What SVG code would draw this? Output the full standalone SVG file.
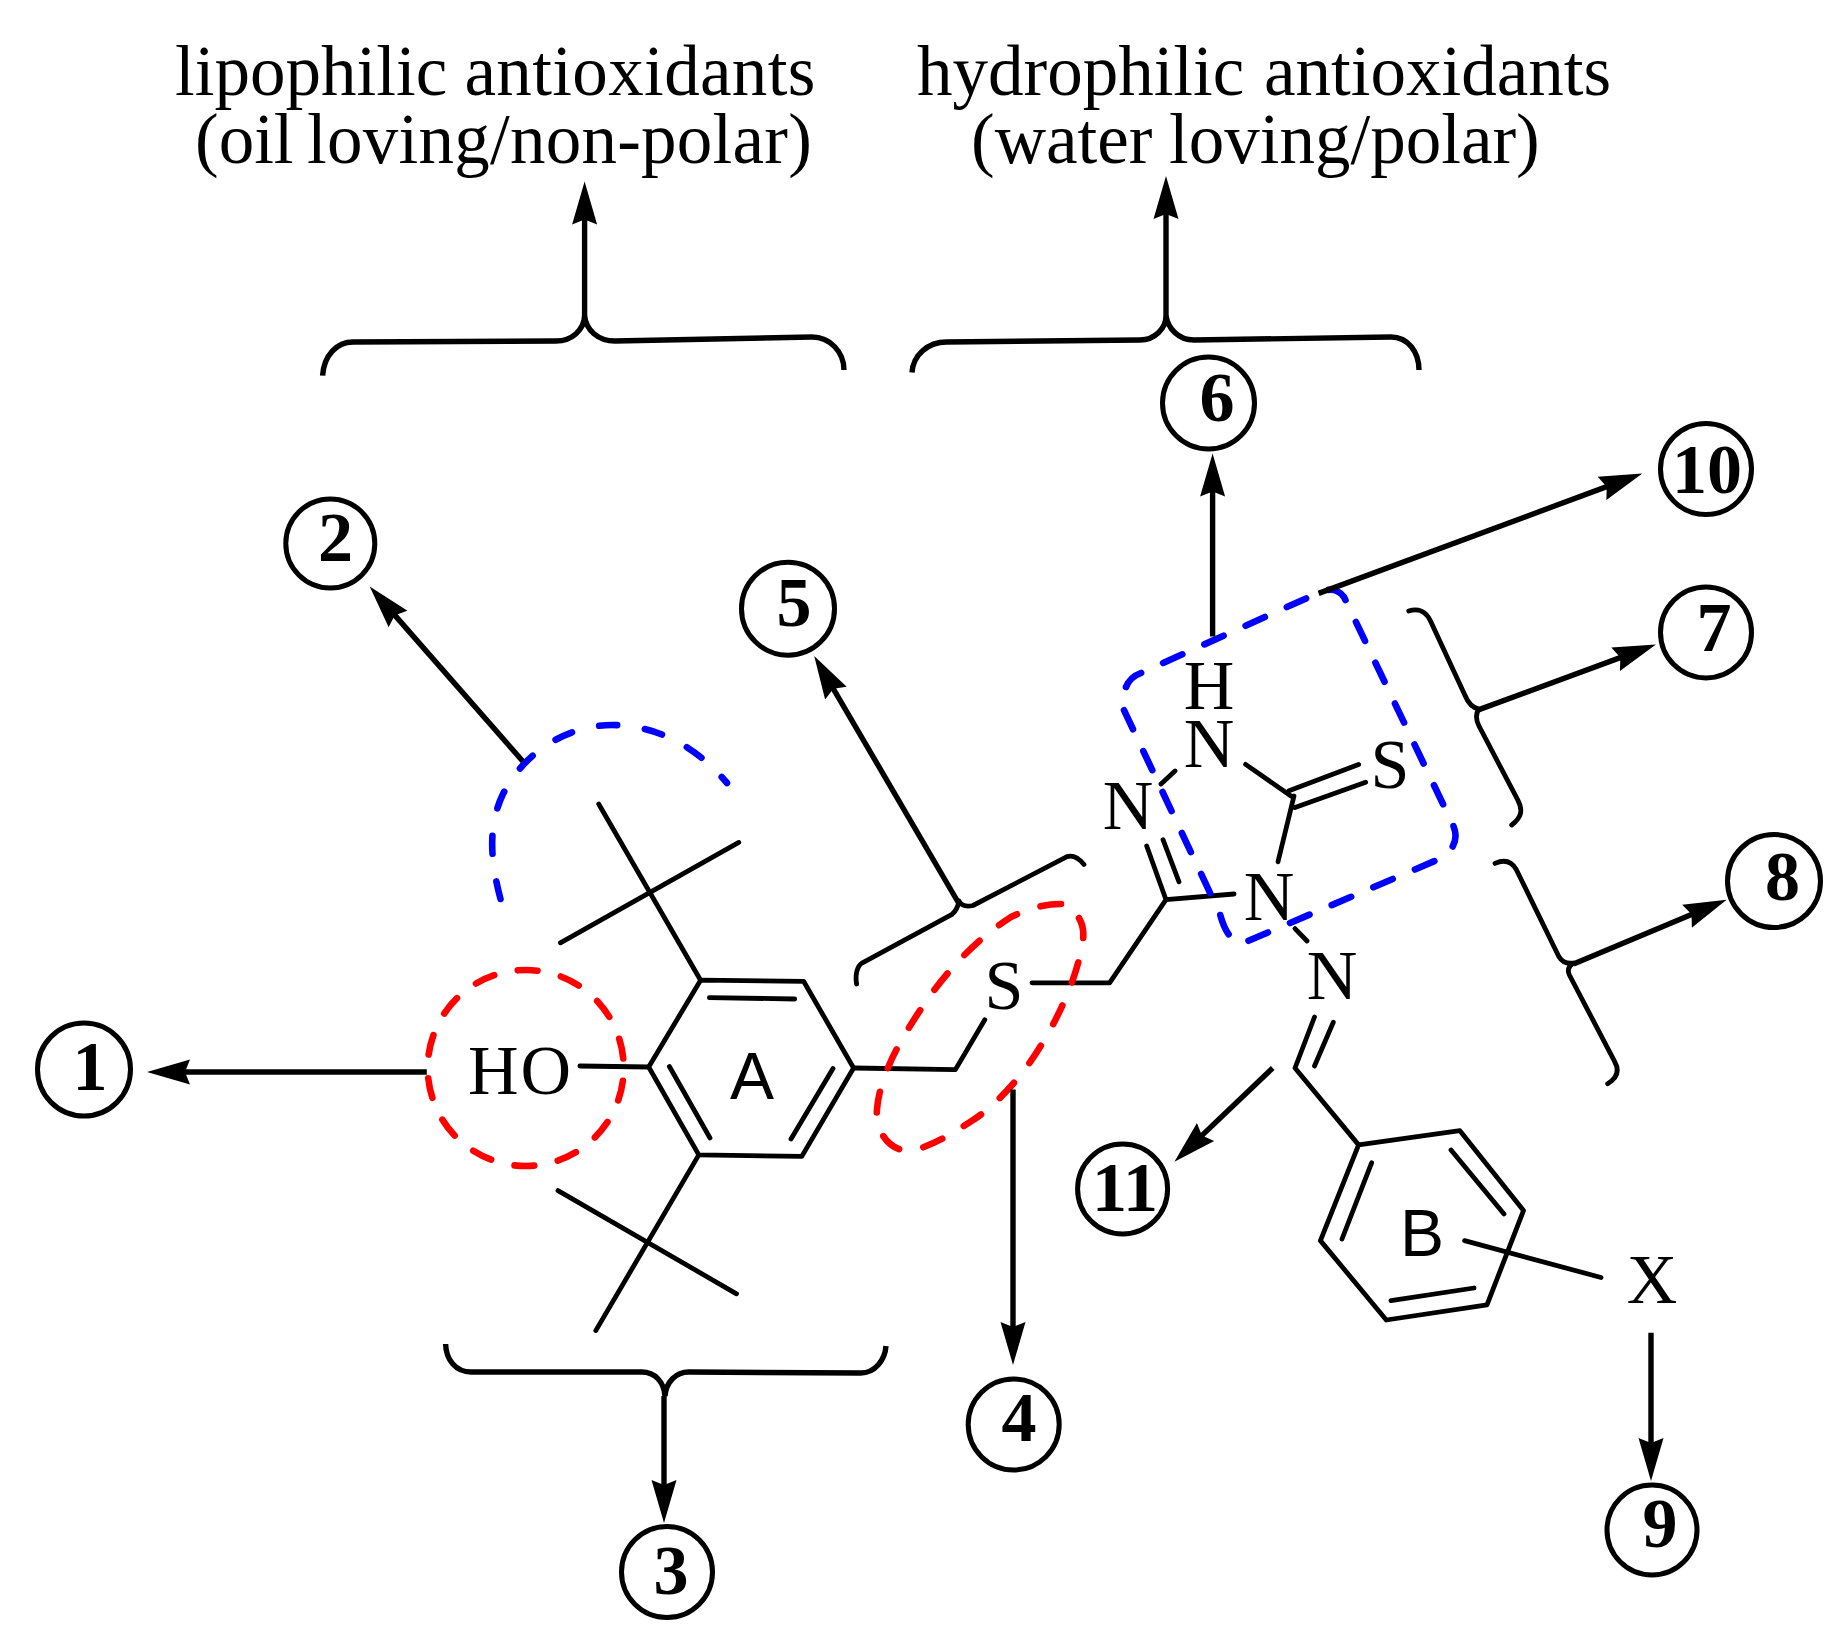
<svg xmlns="http://www.w3.org/2000/svg" width="1846" height="1650" viewBox="0 0 1846 1650">
<style>
.t{font-family:"Liberation Serif","Times New Roman",serif;font-size:70px;fill:#000}
.tt{font-family:"Liberation Serif","Times New Roman",serif;font-size:71px;fill:#000}
.n{font-family:"Liberation Serif","Times New Roman",serif;font-size:70px;font-weight:bold;fill:#000;text-anchor:middle}
.a{font-family:"Liberation Sans",Arial,sans-serif;font-size:66px;fill:#000;text-anchor:middle}
.m{text-anchor:middle}
.c{fill:none;stroke:#000;stroke-width:5}
.l{fill:none;stroke:#000;stroke-width:5.4}
.h{marker-end:url(#ah)}
.b{fill:none;stroke:#000;stroke-width:4.8;stroke-linecap:round;stroke-linejoin:round}
.dr{fill:none;stroke:#f00;stroke-width:6.6;stroke-dasharray:20 24;stroke-linecap:round}
.db{fill:none;stroke:#00f;stroke-width:6.6;stroke-dasharray:21 24;stroke-linecap:round}
</style>
<defs>
<marker id="ah" markerUnits="userSpaceOnUse" markerWidth="46" markerHeight="28" refX="23" refY="13" orient="auto" viewBox="0 0 46 26">
<path d="M0,0.5 L43,13 L0,25.5 L5,13 Z" fill="#000"/>
</marker>
</defs>
<g id="titles">
<text class="tt" y="94.5"><tspan x="175">lipophilic </tspan><tspan x="464.5" letter-spacing="0.35">antioxidants</tspan></text>
<text class="tt" y="163"><tspan x="195">(oil </tspan><tspan x="307" letter-spacing="0.25">loving/non-polar)</tspan></text>
<text class="tt" y="94.5"><tspan x="917">hydrophilic </tspan><tspan x="1264">antioxidants</tspan></text>
<text class="tt" y="163"><tspan x="971">(water </tspan><tspan x="1169">loving/polar)</tspan></text>
</g>
<g id="molecule">
<path class="b" d="M700.6,980.2 L803.6,981.3 L853.6,1068 L801.8,1156.4 L698.8,1154.9 L648.7,1067 Z"/>
<path class="b" d="M709.4,997.6 L794.7,999 M833,1068.6 L791,1139 M710,1138 L669.4,1066.5 M579.9,1066 L648.7,1067"/>
<path class="b" d="M700.6,980.2 L598.7,804 M738.8,842.4 L560.4,942.8 M698.8,1154.9 L595.8,1330.6 M558,1190.6 L736.5,1293.8"/>
<path class="b" d="M853.6,1068 L955.4,1069.6 L984.8,1019.7 M1032,982.8 L1109.6,982.8 L1166,899.7 L1146.7,846 M1179,881.8 L1163,839.7 M1166,899.7 L1234,894"/>
<path class="b" d="M1245.6,764.4 L1291,796 M1289,790.7 L1358.6,764.4 M1295,807.6 L1365.7,782.3 M1294,796 L1278,861.8 M1175,771 L1161,784 M1295,928.6 L1307,941"/>
<path class="b" d="M1314.5,1017 L1295,1068 L1358.6,1144.9 M1333.3,1022.3 L1314.5,1066"/>
<path class="b" d="M1358.6,1144.9 L1459.9,1130.7 L1523.5,1210.6 L1487,1304.8 L1386.3,1320 L1320.4,1240.6 Z"/>
<path class="b" d="M1371.6,1162.8 L1342,1239 M1451,1150 L1504,1214 M1474,1288 L1391,1300.6 M1464.6,1240.6 L1601,1277.5"/>
<text class="t" x="468" y="1094" textLength="103">HO</text>
<text class="a" x="752" y="1098.6">A</text>
<text class="a" x="1422" y="1256">B</text>
<text class="t m" x="1004" y="1009">S</text>
<text class="t m" x="1128" y="829">N</text>
<text class="t m" x="1269" y="919.7">N</text>
<text class="t m" x="1332" y="998.6">N</text>
<text class="t m" x="1209" y="708.7">H</text>
<text class="t m" x="1209" y="766.5">N</text>
<text class="t m" x="1390" y="788">S</text>
<text class="t m" x="1652" y="1302.7">X</text>
</g>
<g id="highlights">
<circle class="dr" cx="525.7" cy="1068" r="98" stroke-dashoffset="31"/>
<path class="dr" pathLength="636" d="M1079,918 C1083,925 1084,932 1083,940 C1078,975 1060,1015 1040,1047 C1018,1083 990,1110 970,1122 C950,1135 930,1147 910,1151 C888,1151 875,1130 877,1109 C880,1075 900,1040 923,1006 C945,973 975,940 1011,917 C1030,908 1045,904 1061,904"/>
<path class="db" style="stroke-dasharray:18 28" d="M500.5,899 C490,860 488,825 503,794 C525,750 570,725 612,725 C655,725 695,745 727,783"/>
<path class="db" pathLength="1035" style="stroke-dasharray:21 24" d="M1126,687 Q1130,677 1141,673 L1318,593 Q1335,585 1344,597 L1453,825 Q1461,842 1444,857 L1241,944 Q1227,940 1220,914 L1123,708 Q1120,697 1126,687"/>
</g>
<g id="connectors">
<path class="l" d="M322.6,375.6 C324,355 337,342 353,342 L556,341 C572,341 584,330 584.6,315.7 C586,330 598,341 615,341 L812,337 C830,337 844,352 844,370"/>
<path class="l h" d="M584.6,316 L584.6,201.5"/>
<path class="l" d="M912,372.5 C913,355 928,342 946.5,342 L1140,340 C1155,340 1166,328 1166,315.7 C1168,328 1178,340 1194,340 L1391,337 C1408,337 1419,352 1419,370"/>
<path class="l h" d="M1166,316 L1166,196"/>
<path class="l" d="M445.6,1344 C446,1360 456,1372 471,1372 L641.7,1372 C655,1372 664,1382 665,1396 C666,1382 676,1372 688.8,1372 L860.7,1373 C875,1373 885,1360 886,1346"/>
<path class="l h" d="M664,1396 L664,1503"/>
<path class="l h" d="M426.8,1072 L167,1072"/>
<path class="l h" d="M522.8,761.3 L382.9,601.6"/>
<path class="l h" d="M1013,1089.6 L1013,1345"/>
<path class="b" d="M1084,864.5 C1078,857 1072,855 1067,856.6 L973,905.5 C966,907 961,905 959,901 C958,907 956,911 952,914.4 L862.4,962.8 C857,966 855,975 856.6,984"/>
<path class="l h" d="M958,902 L824.3,673.3"/>
<path class="l h" d="M1212.6,636.6 L1212.6,473.5"/>
<path class="l h" d="M1318.6,593.4 L1623.6,480.4"/>
<path class="b" d="M1408.7,611 C1418,608 1426,611 1430.5,621 L1464.6,694.5 C1468,703 1473,708 1479,709 C1476,713 1475,718 1479,726 L1517.6,799.7 C1523,810 1522,817 1511.7,825"/>
<path class="l h" d="M1479,709.6 L1637.2,651.4"/>
<path class="b" d="M1495,863.4 C1505,859 1512,862 1516.4,869.7 L1558.8,956.5 C1562,962 1567,964 1573.5,963 C1569,966 1567,970 1569.4,975 L1614.7,1061.7 C1620,1071 1617,1078 1607.7,1083.8"/>
<path class="l h" d="M1573.5,964 L1708.2,907.4"/>
<path class="l h" d="M1651,1332.7 L1651,1461"/>
<path class="l h" d="M1272.7,1068 L1188.9,1147.9"/>
</g>
<g id="n1"><circle class="c" cx="84" cy="1069.5" r="46.5"/><text class="n" x="90" y="1090">1</text></g>
<g id="n2"><circle class="c" cx="330.3" cy="543.5" r="44.5"/><text class="n" x="335.6" y="561">2</text></g>
<g id="n3"><circle class="c" cx="667" cy="1572" r="45.5"/><text class="n" x="671" y="1594">3</text></g>
<g id="n4"><circle class="c" cx="1013.7" cy="1424.5" r="45.5"/><text class="n" x="1019" y="1441">4</text></g>
<g id="n5"><circle class="c" cx="788" cy="608.7" r="46.5"/><text class="n" x="794" y="626">5</text></g>
<g id="n6"><circle class="c" cx="1208.5" cy="403" r="46"/><text class="n" x="1217" y="421">6</text></g>
<g id="n7"><circle class="c" cx="1706" cy="632.4" r="45.5"/><text class="n" x="1714" y="651">7</text></g>
<g id="n8"><circle class="c" cx="1774" cy="881" r="46.5"/><text class="n" x="1782.5" y="900">8</text></g>
<g id="n9"><circle class="c" cx="1652" cy="1530" r="45"/><text class="n" x="1660" y="1547">9</text></g>
<g id="n10"><circle class="c" cx="1706" cy="469" r="45.5"/><text class="n" x="1707" y="493">10</text></g>
<g id="n11"><circle class="c" cx="1122.6" cy="1189" r="45"/><text class="n" x="1125" y="1210.6">11</text></g>
</svg>
